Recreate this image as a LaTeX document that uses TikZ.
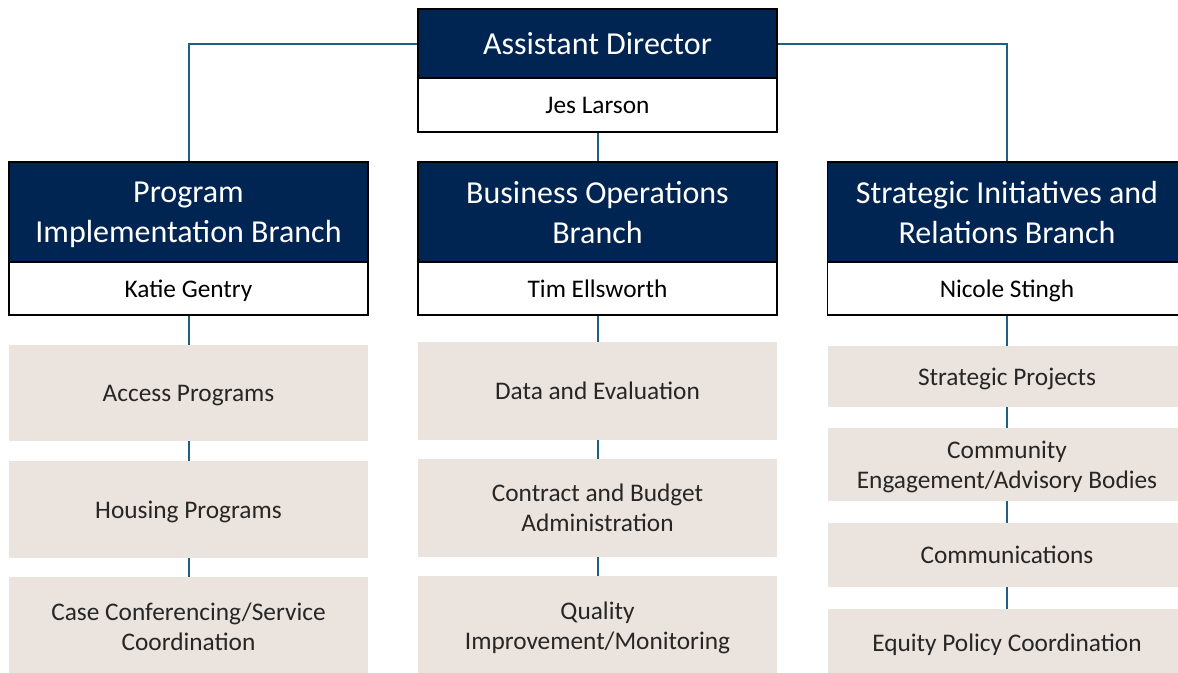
\documentclass[tikz,border=0pt]{standalone}
\usepackage{fontspec}
\setmainfont{Carlito}
\definecolor{navy}{RGB}{0,37,82}
\definecolor{sand}{RGB}{235,227,221}
\definecolor{linkblue}{RGB}{28,98,128}
\tikzset{
         head/.style={draw=black,line width=1.1pt,fill=navy,text=white,
                      minimum width=269.25pt,inner sep=0pt,align=center,text depth=0pt,
                      font=\fontsize{24}{30}\selectfont},
         namebox/.style={draw=black,line width=1.1pt,fill=white,text=black,
                      minimum width=269.25pt,inner sep=0pt,align=center,text depth=0pt,
                      font=\fontsize{19}{22.5}\selectfont},
         unit/.style={fill=sand,text=black!85,minimum width=269.25pt,text depth=0pt,
                      inner sep=0pt,align=center,font=\fontsize{19}{22.5}\selectfont},
         link/.style={draw=linkblue,line width=1.5pt}
        }
\begin{document}
\begin{tikzpicture}[x=0.75pt,y=-0.75pt]
\useasboundingbox(0,0)rectangle(1178,672);
\clip(0,0)rectangle(1178,672);
%top
\node[head,minimum height=51.75pt](ad)at(597.5,43.5){Assistant Director};
\node[namebox,minimum height=40.5pt](adname)at(597.5,105){Jes Larson};
%branches
\node[head,minimum height=75pt](pib)at(188.5,212){Program\\Implementation Branch};
\node[namebox,minimum height=39.75pt](pibname)at(188.5,288.5){Katie Gentry};
\node[head,minimum height=75pt](bob)at(597.5,212){Business Operations\\Branch};
\node[namebox,minimum height=39.75pt](bobname)at(597.5,288.5){Tim Ellsworth};
\node[head,minimum height=75pt](sirb)at(1007,212){Strategic Initiatives and\\Relations Branch};
\node[namebox,minimum height=39.75pt](sirbname)at(1007,288.5){Nicole Stingh};
%units left
\node[unit,minimum height=72pt](access)at(188.5,393){Access Programs};
\node[unit,minimum height=72.75pt](housing)at(188.5,509.5){Housing Programs};
\node[unit,minimum height=75pt](casecoord)at(188.5,627){Case Conferencing/Service\\Coordination};
%units middle
\node[unit,minimum height=73.5pt](data)at(597.5,391){Data and Evaluation};
\node[unit,minimum height=73.5pt](contract)at(597.5,508){Contract and Budget\\Administration};
\node[unit,minimum height=75pt](quality)at(597.5,626){Quality\\Improvement/Monitoring};
%units right
\node[unit,minimum height=45.75pt](projects)at(1007,376.5){Strategic Projects};
\node[unit,minimum height=54.75pt](community)at(1007,464.5){Community\\Engagement/Advisory Bodies};
\node[unit,minimum height=48pt](comms)at(1007,555){Communications};
\node[unit,minimum height=51pt](equity)at(1007,643){Equity Policy Coordination};
%links
\draw[link](ad.west)-|(pib.north);
\draw[link](ad.east)-|(sirb.north);
\draw[link](adname.south)--(bob.north);
\draw[link](pibname.south)--(access.north);
\draw[link](access.south)--(housing.north);
\draw[link](housing.south)--(casecoord.north);
\draw[link](bobname.south)--(data.north);
\draw[link](data.south)--(contract.north);
\draw[link](contract.south)--(quality.north);
\draw[link](sirbname.south)--(projects.north);
\draw[link](projects.south)--(community.north);
\draw[link](community.south)--(comms.north);
\draw[link](comms.south)--(equity.north);
\end{tikzpicture}
\end{document}
